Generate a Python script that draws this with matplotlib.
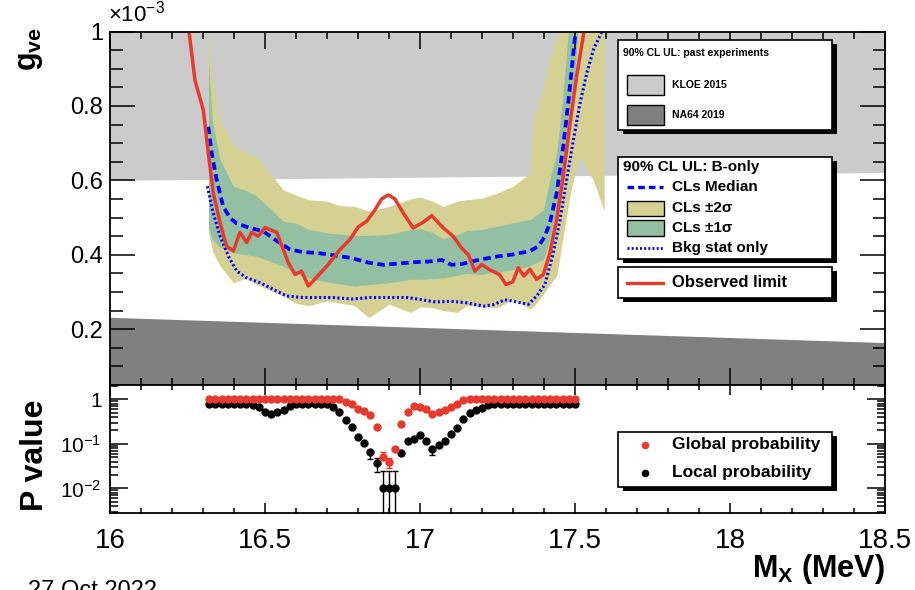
import matplotlib
matplotlib.use('Agg')
import matplotlib.pyplot as plt
import numpy as np
from matplotlib.patches import Rectangle
from matplotlib.lines import Line2D
from matplotlib.ticker import MultipleLocator, FixedLocator, FixedFormatter, FuncFormatter, LogLocator, NullFormatter

plt.rcParams['font.family'] = ['Liberation Sans', 'DejaVu Sans']
plt.rcParams['mathtext.fontset'] = 'custom'
plt.rcParams['mathtext.rm'] = 'Liberation Sans'
plt.rcParams['mathtext.it'] = 'Liberation Sans:italic'
plt.rcParams['mathtext.bf'] = 'Liberation Sans:bold'

# --- данные (g_ve в единицах 1e-3, M_X в МэВ) ---

# исключённые области прошлых экспериментов
kloe_x = [16.0, 18.5]
kloe_lo = [0.600, 0.621]
na64_x = [16.0, 18.5]
na64_hi = [0.232, 0.164]

# наблюдаемый предел
obs_x = [16.252, 16.274, 16.301, 16.317, 16.333, 16.355, 16.376, 16.398, 16.419, 16.441,
         16.457, 16.478, 16.500, 16.538, 16.575, 16.597, 16.618, 16.640, 16.699, 16.742,
         16.774, 16.801, 16.828, 16.855, 16.876, 16.898, 16.919, 16.946, 16.978, 17.011,
         17.038, 17.075, 17.107, 17.135, 17.156, 17.177, 17.199, 17.220, 17.256, 17.277,
         17.299, 17.317, 17.335, 17.355, 17.376, 17.398, 17.419, 17.441, 17.462, 17.484,
         17.505, 17.529]
obs_y = [1.02, 0.869, 0.789, 0.674, 0.567, 0.486, 0.423, 0.410, 0.460, 0.433,
         0.460, 0.450, 0.473, 0.460, 0.379, 0.347, 0.356, 0.316, 0.369, 0.414,
         0.441, 0.475, 0.490, 0.521, 0.550, 0.561, 0.550, 0.512, 0.472, 0.488,
         0.505, 0.472, 0.450, 0.417, 0.400, 0.356, 0.374, 0.362, 0.347, 0.320,
         0.327, 0.365, 0.343, 0.361, 0.334, 0.347, 0.405, 0.495, 0.611, 0.753,
         0.878, 1.00]

# медиана CLs
med_x = [16.317, 16.328, 16.344, 16.365, 16.387, 16.409, 16.452, 16.495, 16.538, 16.581,
         16.624, 16.667, 16.710, 16.774, 16.839, 16.882, 16.925, 16.979, 17.032, 17.070,
         17.102, 17.134, 17.172, 17.194, 17.247, 17.301, 17.355, 17.382, 17.403, 17.419,
         17.441, 17.462, 17.478, 17.489, 17.500, 17.510]
med_y = [0.744, 0.673, 0.602, 0.530, 0.499, 0.484, 0.472, 0.463, 0.437, 0.414,
         0.407, 0.405, 0.400, 0.392, 0.378, 0.373, 0.376, 0.380, 0.382, 0.386,
         0.373, 0.375, 0.383, 0.387, 0.395, 0.401, 0.410, 0.423, 0.450, 0.486,
         0.566, 0.691, 0.807, 0.896, 0.985, 1.05]

# только статистика фона
bkg_x = [16.314, 16.333, 16.355, 16.382, 16.409, 16.441, 16.484, 16.527, 16.570, 16.624,
         16.667, 16.720, 16.780, 16.840, 16.900, 16.960, 17.000, 17.050, 17.100, 17.151,
         17.205, 17.237, 17.274, 17.312, 17.350, 17.376, 17.403, 17.430, 17.452, 17.473,
         17.495, 17.516, 17.538, 17.559, 17.581, 17.600]
bkg_y = [0.584, 0.512, 0.450, 0.396, 0.356, 0.338, 0.325, 0.307, 0.289, 0.285,
         0.285, 0.285, 0.281, 0.285, 0.285, 0.285, 0.280, 0.273, 0.275, 0.271,
         0.262, 0.266, 0.279, 0.273, 0.267, 0.289, 0.320, 0.405, 0.495, 0.602,
         0.709, 0.807, 0.888, 0.950, 0.990, 1.02]

# полосы +-1 sigma и +-2 sigma
band_x = [16.318, 16.330, 16.355, 16.398, 16.440, 16.473, 16.559, 16.600, 16.640, 16.700,
          16.742, 16.790, 16.835, 16.900, 16.970, 17.000, 17.040, 17.075, 17.120, 17.150,
          17.200, 17.250, 17.300, 17.355, 17.365, 17.398, 17.419, 17.441, 17.462, 17.484,
          17.500, 17.516, 17.559, 17.594]
hi2 = [0.980, 0.880, 0.760, 0.695, 0.673, 0.664, 0.575, 0.560, 0.548, 0.544,
       0.532, 0.530, 0.517, 0.530, 0.550, 0.555, 0.544, 0.530, 0.544, 0.548,
       0.552, 0.566, 0.584, 0.620, 0.762, 0.852, 0.932, 0.980, 1.10, 1.10,
       1.10, 1.10, 1.10, 1.10]
hi1 = [0.914, 0.760, 0.655, 0.584, 0.572, 0.558, 0.490, 0.485, 0.468, 0.459,
       0.455, 0.452, 0.452, 0.455, 0.468, 0.470, 0.460, 0.443, 0.454, 0.465,
       0.468, 0.477, 0.486, 0.495, 0.500, 0.521, 0.602, 0.673, 0.840, 1.05,
       1.10, 1.10, 1.10, 1.10]
lo1 = [0.470, 0.440, 0.420, 0.405, 0.400, 0.396, 0.370, 0.350, 0.338, 0.327,
       0.322, 0.316, 0.320, 0.325, 0.334, 0.334, 0.336, 0.338, 0.345, 0.350,
       0.347, 0.355, 0.360, 0.370, 0.375, 0.387, 0.441, 0.530, 0.637, 0.762,
       0.878, 1.10, 1.10, 1.10]
lo2 = [0.460, 0.410, 0.370, 0.325, 0.338, 0.320, 0.289, 0.270, 0.263, 0.276,
       0.270, 0.263, 0.231, 0.267, 0.245, 0.260, 0.258, 0.250, 0.245, 0.263,
       0.260, 0.258, 0.280, 0.254, 0.260, 0.294, 0.320, 0.343, 0.450, 0.560,
       0.620, 0.664, 0.600, 0.518]

# p-значения
p_x = [16.32 + 0.02 * i for i in range(60)]
p_glob = [1.0] * 22 + [0.87, 0.77, 0.62, 0.55, 0.45, 0.24, 0.052, 0.039, 0.078, 0.28,
                       0.52, 0.70, 0.67, 0.62, 0.48, 0.52, 0.59, 0.67, 0.80, 0.95] + [1.0] * 18
p_loc = ([0.78] * 7 + [0.74, 0.67, 0.52, 0.46, 0.52, 0.57, 0.70] + [0.78] * 6 +
         [0.67, 0.52, 0.35, 0.24, 0.14, 0.104, 0.066, 0.037, 0.010, 0.010,
          0.010, 0.063, 0.114, 0.13, 0.155, 0.114, 0.078, 0.093, 0.114, 0.17,
          0.23, 0.37, 0.50, 0.59, 0.65, 0.74] + [0.78] * 14)
# ошибки (индекс точки: (вниз, вверх))
glob_err = {28: (0.009, 0.014), 29: (0.011, 0.010)}
loc_err = {26: (0.020, 0.0), 27: (0.014, 0.010), 28: (0.0099, 0.015),
           29: (0.0099, 0.015), 30: (0.0099, 0.015), 36: (0.023, 0.0)}

W, H = 915, 590
fig = plt.figure(figsize=(W / 100, H / 100), dpi=100)


def fx(px):
    return px / W


def fy(py):
    return 1 - py / H


ax = fig.add_axes([fx(110), fy(385), fx(885) - fx(110), fy(31.5) - fy(385)])
ax2 = fig.add_axes([fx(110), fy(513), fx(885) - fx(110), fy(385) - fy(513)])

# верхняя панель
ax.fill_between(kloe_x, kloe_lo, [1.2, 1.2], color='#cbcbcb', lw=0)
ax.fill_between(na64_x, [0, 0], na64_hi, color='#808080', lw=0)
ax.fill_between(band_x, lo2, hi2, color='#d4d193', lw=0)
ax.fill_between(band_x, lo1, hi1, color='#93bfa3', lw=0)
ax.plot(bkg_x, bkg_y, color='#0000ff', lw=2.2, ls=(0, (0.7, 0.8)))
ax.plot(med_x, med_y, color='#0000ff', lw=2.7, ls=(0, (2.0, 1.2)))
ax.plot(obs_x, obs_y, color='#e83a2c', lw=2.5)
ax.set_xlim(16, 18.5)
ax.set_ylim(0.05, 1.0)
ax.xaxis.set_major_locator(MultipleLocator(0.5))
ax.xaxis.set_minor_locator(MultipleLocator(0.1))
ax.yaxis.set_major_locator(MultipleLocator(0.2))
ax.yaxis.set_minor_locator(MultipleLocator(0.05))
ax.yaxis.set_major_formatter(FuncFormatter(lambda v, _: f'{v:g}'))
ax.tick_params(which='both', direction='in', top=True, right=True, labelbottom=False,
               labelsize=17, width=1.1, pad=5)
ax.tick_params(axis='x', which='major', length=12)
ax.tick_params(axis='x', which='minor', length=5)
ax.tick_params(axis='y', which='major', length=18)
ax.tick_params(axis='y', which='minor', length=9)

# нижняя панель
for i in range(60):
    lo, hi = loc_err.get(i, (0, 0))
    if lo or hi:
        ax2.errorbar(p_x[i], p_loc[i], yerr=[[lo], [hi]], fmt='none', ecolor='black',
                     elinewidth=1, capsize=2, capthick=1)
ax2.plot(p_x, p_loc, 'o', color='black', ms=6, mew=0)
for i in range(60):
    lo, hi = glob_err.get(i, (0, 0))
    if lo or hi:
        ax2.errorbar(p_x[i], p_glob[i], yerr=[[lo], [hi]], fmt='none', ecolor='#e83a2c',
                     elinewidth=1, capsize=2, capthick=1)
ax2.plot(p_x, p_glob, 'o', color='#e83a2c', ms=6, mew=0)
ax2.set_yscale('log')
ax2.set_xlim(16, 18.5)
ax2.set_ylim(0.0028, 2.1)
ax2.xaxis.set_major_locator(MultipleLocator(0.5))
ax2.xaxis.set_minor_locator(MultipleLocator(0.1))
ax2.xaxis.set_major_formatter(FuncFormatter(lambda v, _: f'{v:g}'))
ax2.yaxis.set_major_locator(FixedLocator([0.01, 0.1, 1]))
ax2.yaxis.set_major_formatter(FixedFormatter([r'$10^{-2}$', r'$10^{-1}$', '1']))
ax2.yaxis.set_minor_locator(LogLocator(base=10, subs=np.arange(2, 10)))
ax2.yaxis.set_minor_formatter(NullFormatter())
ax2.tick_params(which='both', direction='in', top=True, right=True, width=1.1)
ax2.tick_params(axis='x', which='major', length=7, labelsize=20, pad=11)
ax2.tick_params(axis='x', which='minor', length=3.5)
ax2.tick_params(axis='y', which='major', length=13, labelsize=15, pad=6)
ax2.tick_params(axis='y', which='minor', length=6)

for a in (ax, ax2):
    for s in a.spines.values():
        s.set_linewidth(1.3)

# подписи осей
fig.text(fx(108), fy(14), r'$\times10^{-3}$', fontsize=16, ha='left', va='center')
fig.text(fx(30), fy(27), r'$\mathbf{g_{ve}}$', rotation=90, ha='center', va='top', fontsize=22)
fig.text(fx(35), fy(455), 'P value', rotation=90, ha='center', va='center',
         fontsize=23, weight='bold')
fig.text(fx(885), fy(569), r'$\mathbf{M_X}$ (MeV)', ha='right', va='center',
         fontsize=22, weight='bold')
fig.text(fx(28), fy(580), '27 Oct 2022', fontsize=17, ha='left', va='top')


# легенды в стиле ROOT
def box(x0, y0, x1, y1):
    fig.add_artist(Rectangle((fx(x0 + 5), fy(y1 + 4)), fx(x1) - fx(x0), fy(y0) - fy(y1),
                             transform=fig.transFigure, fc='black', ec='none', zorder=10))
    fig.add_artist(Rectangle((fx(x0), fy(y1)), fx(x1) - fx(x0), fy(y0) - fy(y1),
                             transform=fig.transFigure, fc='white', ec='black', lw=1.2, zorder=11))


def swatch(y, color, h=20):
    fig.add_artist(Rectangle((fx(627), fy(y + h / 2)), fx(664) - fx(627), fy(y - h / 2) - fy(y + h / 2),
                             transform=fig.transFigure, fc=color, ec='black', lw=1, zorder=12))


def hline(y, **kw):
    fig.add_artist(Line2D([fx(627), fx(663)], [fy(y), fy(y)], transform=fig.transFigure,
                          zorder=12, **kw))


def label(x, y, s, size):
    fig.text(fx(x), fy(y), s, fontsize=size, weight='bold', ha='left', va='center', zorder=13)


box(618, 40, 832, 130)
label(623, 53, '90% CL UL: past experiments', 7.5)
swatch(84.5, '#cbcbcb')
label(672, 84.5, 'KLOE 2015', 7.5)
swatch(115, '#808080')
label(672, 115, 'NA64 2019', 7.5)

box(618, 157, 832, 259)
label(623, 167, '90% CL UL: B-only', 11)
hline(187, color='#0000ff', lw=2.4, ls=(0, (2.0, 1.2)))
label(672, 187, 'CLs Median', 11)
swatch(208, '#d4d193', h=15)
label(672, 208, 'CLs ±2σ', 11)
swatch(228, '#93bfa3', h=15)
label(672, 228, 'CLs ±1σ', 11)
hline(248, color='#0000ff', lw=2.0, ls=(0, (0.7, 0.8)))
label(672, 248, 'Bkg stat only', 11)

box(618, 267, 832, 298)
hline(282.5, color='#e83a2c', lw=2.4)
label(672, 282.5, 'Observed limit', 12)

box(618, 432, 832, 487)
fig.add_artist(Line2D([fx(645)], [fy(445)], transform=fig.transFigure, marker='o', ms=5.5,
                      mew=0, color='#e83a2c', ls='none', zorder=12))
label(672, 445, 'Global probability', 12.5)
fig.add_artist(Line2D([fx(645)], [fy(473)], transform=fig.transFigure, marker='o', ms=5.5,
                      mew=0, color='black', ls='none', zorder=12))
label(672, 473, 'Local probability', 12.5)

fig.savefig('out.png', dpi=100)
